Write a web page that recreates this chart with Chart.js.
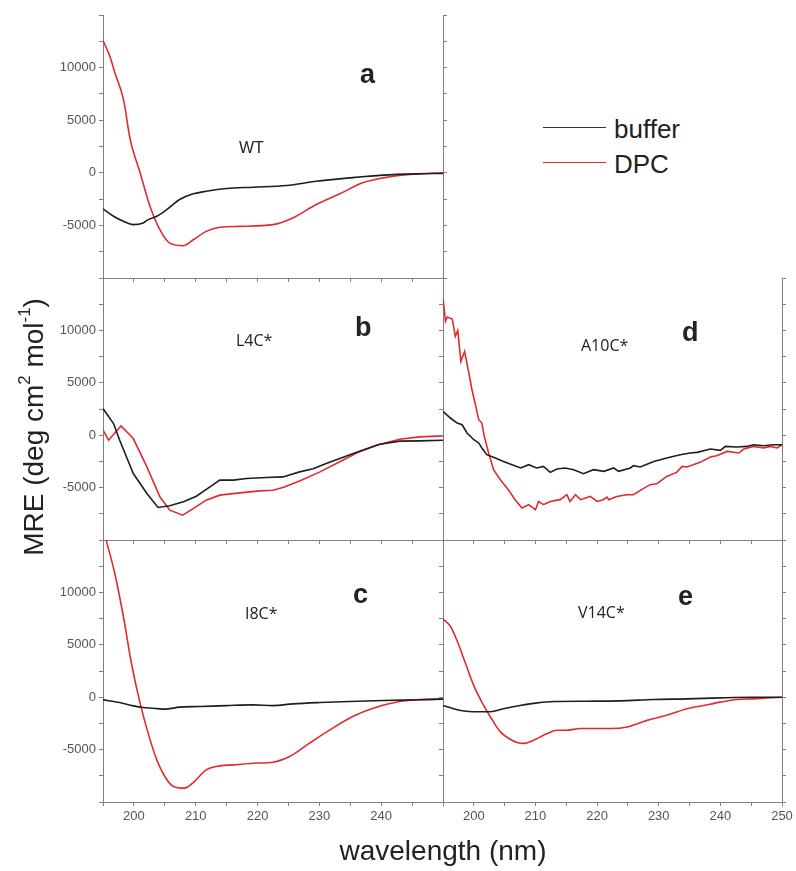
<!DOCTYPE html>
<html>
<head>
<meta charset="utf-8">
<script src="https://cdn.jsdelivr.net/npm/chart.js@4.4.1/dist/chart.umd.min.js"></script>
<style>
    body { margin: 0; background: #fff; }
    #fig { position: relative; width: 796px; height: 871px; overflow: hidden; font-family: "Liberation Sans", Arial, sans-serif; color: #222; }
    #fig canvas { position: absolute; }
    .txt { position: absolute; white-space: nowrap; line-height: 1; }
    .letter { font-weight: bold; font-size: 27px; }
    .mut { font-family: "Open Sans", sans-serif; font-size: 16px; }
    .leg { font-size: 26px; }
    .legline { position: absolute; left: 543px; width: 63px; height: 0; }
    sup { font-size: 60%; line-height: 0; vertical-align: 0.75em; }
</style>
</head>
<body>
<div id="fig">
    <canvas id="panelA"></canvas>
    <canvas id="panelB"></canvas>
    <canvas id="panelC"></canvas>
    <canvas id="panelD"></canvas>
    <canvas id="panelE"></canvas>

    <div class="txt letter" style="left:360px; top:61px;">a</div>
    <div class="txt letter" style="left:355px; top:314px;">b</div>
    <div class="txt letter" style="left:353px; top:581px;">c</div>
    <div class="txt letter" style="left:682px; top:319px;">d</div>
    <div class="txt letter" style="left:678px; top:583px;">e</div>

    <div class="txt" style="left:239px; top:140px; font-size:16px;">WT</div>
    <div class="txt mut" style="left:236px; top:332px;">L4C*</div>
    <div class="txt mut" style="left:245px; top:605px;">I8C*</div>
    <div class="txt mut" style="left:581px; top:337px;">A10C*</div>
    <div class="txt mut" style="left:578px; top:604px;">V14C*</div>

    <div class="legline" style="top:126.5px; border-top:1.5px solid #333;"></div>
    <div class="txt leg" style="left:614px; top:116px;">buffer</div>
    <div class="legline" style="top:162px; border-top:1.5px solid #e02a32;"></div>
    <div class="txt leg" style="left:614px; top:151px;">DPC</div>

    <div class="txt" style="left:443px; top:837px; font-size:28px; transform:translateX(-50%);">wavelength (nm)</div>
    <div class="txt" style="left:-116px; top:413px; width:300px; text-align:center; font-size:28px; line-height:28px; transform:rotate(-90deg);">MRE (deg cm<sup>2</sup> mol<sup>-1</sup>)</div>
</div>
<script>
// tick labels
const yTickLabels = [-5000, 0, 5000, 10000];
const xTickLabelsLeft = [200, 210, 220, 230, 240];
const xTickLabelsRight = [200, 210, 220, 230, 240, 250];

// panel a - WT
const aBufferNm = [195, 196.7, 198.3, 199.9, 201.5, 202.3, 203.7, 205.3, 207.4, 209.6, 211.7, 215, 219.3, 224.7, 229.5, 234.9, 240.3, 245.7, 250];
const aBufferMre = [-3430, -4130, -4610, -4930, -4770, -4450, -4130, -3500, -2540, -2000, -1750, -1490, -1370, -1210, -800, -480, -220, -100, -60];
const aDpcNm = [195, 196.1, 196.9, 198.3, 199.4, 201, 202.6, 204.2, 205.8, 208, 209.6, 211.7, 213.9, 217.1, 222.5, 225.7, 229.5, 233.3, 237, 240.3, 244.6, 250];
const aDpcMre = [12560, 11100, 9540, 7000, 3180, 0, -3180, -5400, -6680, -6930, -6360, -5570, -5180, -5090, -4930, -4290, -3020, -2000, -950, -480, -160, 0];

// panel b - L4C*
const bBufferNm = [195, 196.7, 197.7, 199.9, 202.1, 203.9, 205.8, 208, 210.1, 212.3, 213.9, 216.1, 218.2, 221.4, 224.1, 226.8, 229, 231.1, 233.3, 236.5, 239.8, 243, 246.2, 250];
const bBufferMre = [2540, 1110, -480, -3660, -5570, -6900, -6740, -6360, -5820, -4930, -4290, -4290, -4130, -4040, -3980, -3500, -3210, -2700, -2230, -1530, -860, -570, -540, -480];
const bDpcNm = [195, 195.9, 197.9, 199.9, 202.1, 204.2, 205.8, 207.9, 209.6, 211.7, 213.9, 217.1, 220.4, 222.5, 224.1, 226.8, 230.1, 233.3, 236.2, 239.2, 243, 246.2, 250];
const bDpcMre = [480, -480, 890, -320, -3020, -5880, -7150, -7630, -7000, -6200, -5720, -5500, -5310, -5250, -4990, -4360, -3500, -2540, -1650, -950, -380, -160, -60];

// panel c - I8C*
const cBufferNm = [195, 197.7, 199.9, 201.5, 203.1, 205, 207.4, 210.7, 215, 219.3, 222.5, 225.7, 230.1, 234.9, 240.3, 245.7, 250];
const cBufferMre = [-250, -510, -830, -990, -1050, -1140, -950, -890, -800, -730, -800, -640, -510, -410, -320, -250, -190];
const cDpcNm = [195, 195.5, 196.9, 198.3, 199.6, 201, 202.3, 203.7, 205, 206.4, 208.2, 209.6, 211.7, 213.9, 216.1, 219.3, 222.5, 225.2, 228.4, 231.7, 235.4, 238.7, 243, 246.2, 250];
const cDpcMre = [16100, 15010, 11830, 7700, 3240, -570, -3430, -5980, -7570, -8520, -8680, -8140, -6930, -6550, -6460, -6300, -6200, -5660, -4390, -3120, -1840, -1050, -410, -250, -160];

// panel d - A10C*
const dBufferNm = [195, 196.2, 197.3, 198.1, 198.9, 200, 200.8, 201.3, 202.1, 203.5, 204.8, 206.2, 207.6, 208.9, 210.2, 211.3, 212.4, 213.5, 214.8, 216.2, 217.8, 219.4, 221.1, 222.7, 223.5, 225.4, 225.9, 227, 229.2, 231.3, 233.5, 235.1, 236.2, 238.4, 240, 240.8, 242.7, 244.3, 245.4, 247, 248.6, 250];
const dBufferMre = [2270, 1640, 1160, 1000, 210, -430, -740, -1220, -1860, -2170, -2500, -2810, -3130, -2810, -3130, -2980, -3550, -3220, -3130, -3290, -3670, -3290, -3450, -3130, -3450, -3130, -2910, -3030, -2500, -2170, -1860, -1700, -1640, -1320, -1450, -1070, -1130, -1070, -910, -1000, -910, -910];
const dDpcNm = [195, 195.4, 195.7, 196.5, 197, 197.4, 197.9, 198.5, 199.2, 199.7, 200.2, 200.8, 201.3, 201.7, 202.4, 203.2, 204.3, 205.6, 206.7, 207.8, 208.9, 210, 210.5, 211.3, 212.4, 214, 215.1, 215.6, 216.5, 217.3, 218.9, 220, 221, 221.6, 221.9, 223.2, 224.8, 225.9, 227, 228.6, 229.7, 231.3, 232.9, 233.8, 234.6, 236.7, 238.4, 239.4, 241.1, 243, 243.8, 245.4, 247, 248.1, 249.2, 250];
const dDpcMre = [13090, 10860, 11280, 11090, 9430, 10000, 7040, 8000, 5930, 4340, 3070, 1480, 1160, -110, -1700, -3290, -4250, -5200, -6150, -6950, -6630, -7110, -6320, -6630, -6320, -6150, -5680, -6320, -5680, -6150, -5840, -6320, -6150, -5900, -6150, -5840, -5680, -5680, -5270, -4720, -4630, -3930, -3550, -2980, -3030, -2590, -2080, -1960, -1550, -1700, -1320, -1070, -1220, -1070, -1220, -910];

// panel e - V14C*
const eBufferNm = [195, 196.7, 198.4, 200, 202.7, 204.8, 207.5, 210.3, 213, 218.4, 223.8, 229.2, 234.6, 240, 245.4, 250];
const eBufferMre = [-790, -1100, -1320, -1390, -1390, -1100, -790, -540, -410, -380, -350, -220, -160, -60, 0, 0];
const eDpcNm = [195, 196.2, 197.3, 198.6, 200, 201.3, 202.7, 204.3, 205.7, 207, 208.1, 209.7, 211.9, 213.5, 215.1, 217.3, 220.5, 222.1, 224.9, 228.1, 231.3, 234.6, 237.3, 240, 242.7, 245.4, 250];
const eDpcMre = [7470, 6770, 5360, 3310, 1100, -470, -1890, -3310, -3940, -4320, -4410, -4100, -3470, -3150, -3150, -2990, -2990, -2990, -2840, -2210, -1730, -1100, -790, -470, -220, -160, 0];

const AXIS_COLOR = '#808080';
const TICK_FONT = { family: '"Liberation Sans", Arial, sans-serif', size: 13 };
const MARGIN = { left: 70, top: 12, right: 20, bottom: 34 };

function toPoints(nm, mre) {
    return nm.map((x, i) => ({ x: x, y: mre[i] }));
}

function renderPanel(id, box, buffer, dpc, showYLabels, xLabels, rightAxis, smooth) {
    const canvas = document.getElementById(id);
    canvas.width = box.width + MARGIN.left + MARGIN.right;
    canvas.height = box.height + MARGIN.top + MARGIN.bottom;
    canvas.style.left = (box.left - MARGIN.left) + 'px';
    canvas.style.top = (box.top - MARGIN.top) + 'px';

    const scales = {
        x: {
            type: 'linear',
            min: 195,
            max: 250,
            afterFit: (s) => { s.height = MARGIN.bottom; },
            ticks: {
                stepSize: 5,
                autoSkip: false,
                maxRotation: 0,
                color: '#555',
                font: TICK_FONT,
                padding: 3,
                callback: (v) => xLabels.includes(v) ? String(v) : ''
            },
            grid: { drawOnChartArea: false, drawTicks: true, tickLength: 4, color: AXIS_COLOR },
            border: { display: true, color: AXIS_COLOR, width: 1 }
        },
        y: {
            min: -10000,
            max: 15000,
            afterFit: (s) => { s.width = MARGIN.left; },
            ticks: {
                stepSize: 2500,
                autoSkip: false,
                color: '#555',
                font: TICK_FONT,
                padding: 3,
                callback: (v) => (showYLabels && yTickLabels.includes(v)) ? String(v) : ''
            },
            grid: { drawOnChartArea: false, drawTicks: true, tickLength: 4, color: AXIS_COLOR },
            border: { display: true, color: AXIS_COLOR, width: 1 }
        }
    };
    if (rightAxis) {
        scales.yr = {
            position: 'right',
            min: -10000,
            max: 15000,
            afterFit: (s) => { s.width = MARGIN.right; },
            ticks: { stepSize: 2500, autoSkip: false, font: TICK_FONT, callback: () => '' },
            grid: { drawOnChartArea: false, drawTicks: true, tickLength: 4, color: AXIS_COLOR },
            border: { display: true, color: AXIS_COLOR, width: 1 }
        };
    }

    const mode = smooth ? 'monotone' : 'default';

    new Chart(canvas, {
        type: 'line',
        data: {
            datasets: [
                {
                    label: 'buffer',
                    data: buffer,
                    borderColor: '#1e1e1e',
                    borderWidth: 1.6,
                    cubicInterpolationMode: mode,
                    yAxisID: 'y'
                },
                {
                    label: 'DPC',
                    data: dpc,
                    borderColor: '#e02a32',
                    borderWidth: 1.6,
                    cubicInterpolationMode: mode,
                    yAxisID: 'y'
                }
            ]
        },
        options: {
            responsive: false,
            animation: false,
            devicePixelRatio: 1,
            layout: { padding: { top: MARGIN.top, right: rightAxis ? 0 : MARGIN.right, left: 0, bottom: 0 } },
            elements: { point: { radius: 0 }, line: { tension: 0 } },
            plugins: { legend: { display: false }, tooltip: { enabled: false } },
            scales: scales
        }
    });
}

renderPanel('panelA', { left: 103, top: 15, width: 340, height: 263 },
    toPoints(aBufferNm, aBufferMre), toPoints(aDpcNm, aDpcMre), true, [], true, true);
renderPanel('panelB', { left: 103, top: 278, width: 340, height: 262 },
    toPoints(bBufferNm, bBufferMre), toPoints(bDpcNm, bDpcMre), true, [], false, false);
renderPanel('panelC', { left: 103, top: 540, width: 340, height: 262 },
    toPoints(cBufferNm, cBufferMre), toPoints(cDpcNm, cDpcMre), true, xTickLabelsLeft, false, true);
renderPanel('panelD', { left: 443, top: 278, width: 339, height: 262 },
    toPoints(dBufferNm, dBufferMre), toPoints(dDpcNm, dDpcMre), false, [], true, false);
renderPanel('panelE', { left: 443, top: 540, width: 339, height: 262 },
    toPoints(eBufferNm, eBufferMre), toPoints(eDpcNm, eDpcMre), false, xTickLabelsRight, true, true);
</script>
</body>
</html>
